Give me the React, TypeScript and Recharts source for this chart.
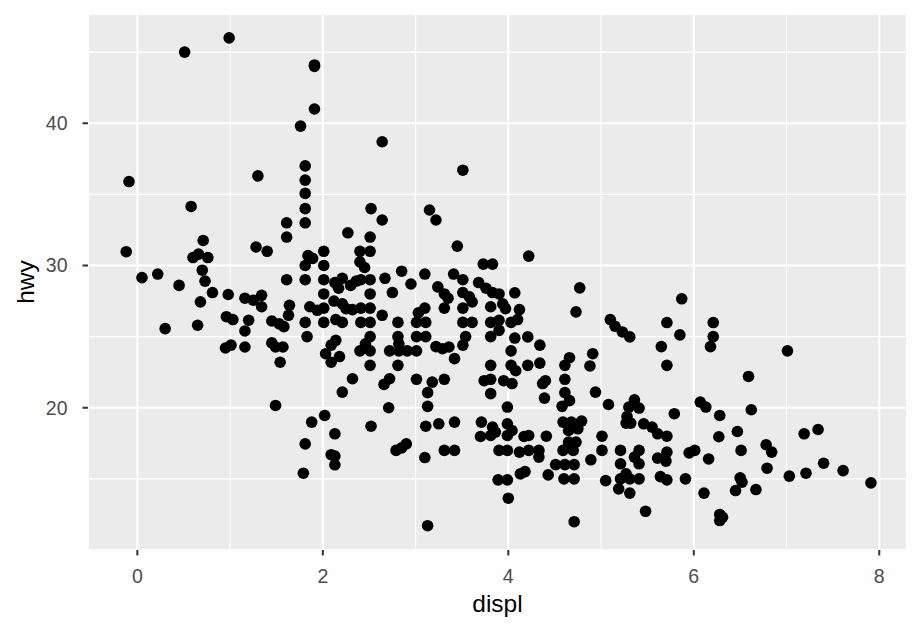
import React from 'react';
import { ScatterChart, Scatter, XAxis, YAxis, CartesianGrid, ReferenceLine } from 'recharts';

const displ = [
  -0.09, 0.51, 0.99, 1.30, 1.76, 1.91, 1.91, 1.91, 2.64, 1.81,
  1.81, 1.81, 3.51, 0.58, 1.61, 1.61, 0.71, -0.12, 1.28, 1.40,
  0.60, 0.66, 0.76, 0.05, 0.22, 0.70, 0.73, 0.45, 1.61, 0.81,
  0.98, 0.68, 1.16, 1.25, 1.34, 1.34, 1.64, 1.63, 0.96, 1.03,
  1.20, 1.45, 1.53, 1.58, 1.16, 0.30, 0.65, 0.95, 1.01, 1.16,
  1.45, 1.49, 1.57, 1.54, 1.49, 1.79, 1.81, 1.81, 2.52, 2.64,
  2.27, 2.51, 3.15, 3.22, 3.45, 2.01, 1.84, 1.89, 1.81, 2.01,
  2.40, 2.51, 2.40, 2.45, 1.81, 2.01, 2.13, 2.21, 2.17, 2.30,
  2.36, 2.41, 2.51, 2.67, 2.85, 2.95, 3.10, 3.41, 3.51, 3.73,
  3.83, 3.68, 3.76, 3.24, 3.31, 3.35, 3.31, 3.51, 3.58, 3.61,
  3.51, 3.83, 3.90, 3.81, 3.94, 3.97, 2.01, 2.51, 2.75, 1.86,
  1.94, 2.01, 2.12, 2.21, 2.25, 2.32, 2.41, 2.51, 2.64, 1.81,
  2.01, 2.14, 2.21, 2.41, 2.51, 2.81, 3.01, 3.11, 3.03, 3.10,
  3.51, 3.61, 3.81, 3.90, 1.83, 2.51, 2.81, 3.01, 3.11, 3.54,
  3.81, 3.90, 2.14, 2.09, 2.46, 2.82, 3.22, 3.29, 3.36, 3.51,
  2.03, 2.18, 2.09, 2.40, 2.51, 2.72, 2.82, 2.91, 3.01, 3.42,
  2.51, 2.81, 3.81, 2.32, 2.21, 2.66, 2.72, 3.01, 3.18, 3.31,
  3.13, 3.74, 3.81, 3.81, 3.95, 2.71, 3.13, 3.99, 2.02, 1.88,
  2.13, 2.52, 1.81, 3.11, 3.25, 3.42, 3.71, 3.70, 3.83, 3.86,
  3.81, 3.99, 3.99, 2.90, 2.85, 2.79, 2.09, 2.13, 2.13, 3.31,
  3.42, 3.10, 3.90, 3.99, 3.89, 3.99, 4.00, 3.13, 4.22, 4.77,
  4.73, 5.87, 6.21, 6.21, 6.18, 5.10, 5.15, 5.23, 5.31, 5.71,
  5.85, 5.65, 5.71, 4.07, 4.12, 4.10, 4.03, 4.07, 4.21, 4.34,
  4.03, 4.03, 4.08, 4.21, 4.34, 4.66, 4.61, 4.91, 4.88, 7.01,
  6.59, 4.04, 4.37, 4.40, 4.39, 4.61, 4.61, 4.66, 4.58, 4.94,
  5.08, 5.36, 5.30, 5.41, 5.28, 5.27, 5.32, 5.46, 5.55, 5.61,
  5.71, 5.79, 6.07, 6.13, 6.28, 6.27, 4.04, 4.17, 4.22, 4.41,
  4.59, 4.68, 4.79, 4.65, 4.75, 4.65, 4.73, 4.59, 4.70, 4.65,
  5.01, 5.01, 4.12, 4.22, 4.33, 4.33, 4.89, 4.51, 4.61, 4.71,
  5.21, 5.41, 5.36, 5.41, 5.21, 5.61, 5.70, 5.71, 5.95, 6.01,
  6.16, 4.13, 4.18, 4.43, 4.60, 4.71, 5.05, 5.21, 5.27, 5.31,
  5.41, 5.19, 5.31, 5.64, 5.71, 5.91, 6.11, 5.48, 4.71, 6.28,
  6.28, 6.31, 6.62, 6.47, 6.51, 6.78, 6.84, 6.79, 6.50, 6.52,
  6.45, 6.67, 7.03, 7.21, 7.40, 7.61, 7.91, 7.19, 7.34,
];

const hwy = [
  35.9, 45.0, 46.0, 36.3, 39.8, 44.0, 44.1, 41.0, 38.7, 37.0,
  36.0, 35.07, 36.7, 34.15, 33.0, 32.0, 31.76, 30.97, 31.3, 31.0,
  30.56, 30.8, 30.56, 29.15, 29.4, 29.67, 28.9, 28.6, 29.0, 28.1,
  27.96, 27.44, 27.7, 27.56, 27.9, 27.1, 27.2, 26.5, 26.4, 26.2,
  26.15, 26.1, 25.9, 25.7, 25.4, 25.56, 25.8, 24.2, 24.4, 24.27,
  24.56, 24.27, 24.27, 23.2, 20.16, 15.4, 34.0, 33.0, 34.0, 33.2,
  32.3, 32.0, 33.9, 33.2, 31.36, 31.0, 30.7, 30.5, 30.0, 30.0,
  31.0, 31.0, 30.26, 29.86, 29.0, 29.0, 28.8, 29.1, 28.4, 28.6,
  28.9, 29.0, 29.0, 29.1, 29.6, 28.7, 29.4, 29.4, 29.0, 30.1,
  30.1, 28.8, 28.4, 28.5, 28.0, 27.7, 27.0, 28.1, 27.8, 27.44,
  27.0, 28.1, 28.0, 27.1, 27.3, 26.97, 28.0, 28.0, 28.1, 27.1,
  26.85, 27.0, 27.5, 27.3, 26.97, 26.9, 27.0, 27.0, 26.5, 26.0,
  26.0, 26.2, 26.0, 26.0, 26.0, 26.0, 26.0, 26.0, 26.67, 27.0,
  26.0, 26.0, 26.0, 26.15, 25.0, 25.0, 25.0, 25.0, 25.0, 25.0,
  25.0, 25.44, 24.74, 24.4, 24.5, 24.5, 24.3, 24.15, 24.27, 24.4,
  23.8, 23.6, 23.2, 24.0, 24.0, 24.0, 24.0, 24.0, 24.0, 23.45,
  22.98, 22.98, 22.98, 22.04, 21.1, 21.64, 22.04, 22.0, 21.8, 22.0,
  21.06, 21.9, 22.0, 20.99, 21.9, 20.0, 20.1, 20.05, 19.46, 18.99,
  18.17, 18.7, 17.46, 18.7, 18.87, 18.99, 18.99, 17.98, 18.64, 18.29,
  18.05, 18.87, 18.05, 17.46, 17.18, 17.0, 16.7, 16.6, 15.99, 17.0,
  17.0, 16.5, 17.0, 17.0, 14.93, 14.93, 13.64, 11.71, 30.66, 28.43,
  26.74, 27.66, 25.99, 25.0, 24.3, 26.2, 25.73, 25.33, 24.98, 25.99,
  25.12, 24.3, 22.98, 28.08, 26.9, 26.2, 26.0, 24.9, 24.98, 24.4,
  24.0, 22.98, 22.6, 22.98, 23.14, 23.52, 22.98, 23.8, 22.94, 24.0,
  22.2, 21.7, 21.7, 21.9, 20.68, 22.0, 21.06, 20.5, 20.1, 21.1,
  20.23, 20.56, 20.05, 19.98, 19.39, 18.92, 18.92, 18.87, 18.64, 18.17,
  18.0, 19.58, 20.4, 20.05, 19.46, 17.96, 18.4, 17.98, 18.05, 18.0,
  18.99, 18.99, 19.06, 18.4, 18.52, 17.58, 17.58, 17.0, 17.0, 17.35,
  18.0, 17.0, 16.88, 17.0, 17.0, 16.53, 16.34, 16.0, 16.0, 16.0,
  17.0, 17.0, 16.53, 16.06, 16.06, 16.46, 16.25, 16.88, 16.83, 17.0,
  16.4, 15.35, 15.51, 15.28, 15.0, 15.0, 14.88, 15.0, 15.35, 15.0,
  15.0, 14.3, 14.0, 15.16, 14.93, 15.0, 14.0, 12.72, 11.99, 12.5,
  12.07, 12.3, 19.86, 18.33, 17.0, 17.4, 16.88, 15.75, 15.07, 14.77,
  14.18, 14.25, 15.19, 15.4, 16.1, 15.58, 14.72, 18.17, 18.47,
];

const xTicks = [0, 2, 4, 6, 8];
const yTicks = [20, 30, 40];
const xMinor = [1, 3, 5, 7];
const yMinor = [15, 25, 35, 45];
const xDomain = [-0.532, 8.299];
const yDomain = [10.0, 47.68];

const data = displ.map((d, i) => ({ displ: d, hwy: hwy[i] }));

const FONT = '"Liberation Sans", Arial, Helvetica, sans-serif';

const Dot = (props: any) => <circle cx={props.cx} cy={props.cy} r={5.8} fill="#000000" />;

const YTitle = (props: any) => {
  const vb = props.viewBox || { x: 0, y: 14, width: 88, height: 536 };
  const cx = vb.x + 34;
  const cy = vb.y + vb.height / 2;
  return (
    <text x={cx} y={cy} transform={`rotate(-90, ${cx}, ${cy})`} textAnchor="middle" fill="#000" fontSize={24.5} fontFamily={FONT}>
      hwy
    </text>
  );
};

const XTitle = (props: any) => {
  const vb = props.viewBox || { x: 88, y: 550, width: 819, height: 84 };
  const cx = vb.x + vb.width / 2;
  const cy = vb.y + 62;
  return (
    <text x={cx} y={cy} textAnchor="middle" fill="#000" fontSize={24.5} fontFamily={FONT}>
      displ
    </text>
  );
};

export default function App() {
  return (
    <div style={{ position: 'absolute', left: 0, top: 0, width: 922, height: 634, background: '#ffffff' }}>
      <ScatterChart width={922} height={634} margin={{ top: 14, right: 15, bottom: 0, left: 0 }}>
        <CartesianGrid fill="#EBEBEB" stroke="#FFFFFF" strokeWidth={2.1} />
        {xMinor.map((v) => (
          <ReferenceLine key={'xm' + v} x={v} stroke="#FFFFFF" strokeWidth={1.1} />
        ))}
        {yMinor.map((v) => (
          <ReferenceLine key={'ym' + v} y={v} stroke="#FFFFFF" strokeWidth={1.1} />
        ))}
        <XAxis
          type="number"
          dataKey="displ"
          domain={xDomain}
          ticks={xTicks}
          allowDataOverflow
          height={84}
          axisLine={false}
          tickSize={5.5}
          tickMargin={14}
          tickLine={{ stroke: '#333333', strokeWidth: 2 }}
          tick={{ fill: '#4D4D4D', fontSize: 19.5, fontFamily: FONT }}
          label={{ content: XTitle }}
        />
        <YAxis
          type="number"
          dataKey="hwy"
          domain={yDomain}
          ticks={yTicks}
          allowDataOverflow
          width={88}
          axisLine={false}
          tickSize={5.5}
          tickMargin={15}
          tickLine={{ stroke: '#333333', strokeWidth: 2 }}
          tick={{ fill: '#4D4D4D', fontSize: 19.5, fontFamily: FONT }}
          label={{ content: YTitle }}
        />
        <Scatter data={data} shape={Dot} isAnimationActive={false} />
      </ScatterChart>
    </div>
  );
}
